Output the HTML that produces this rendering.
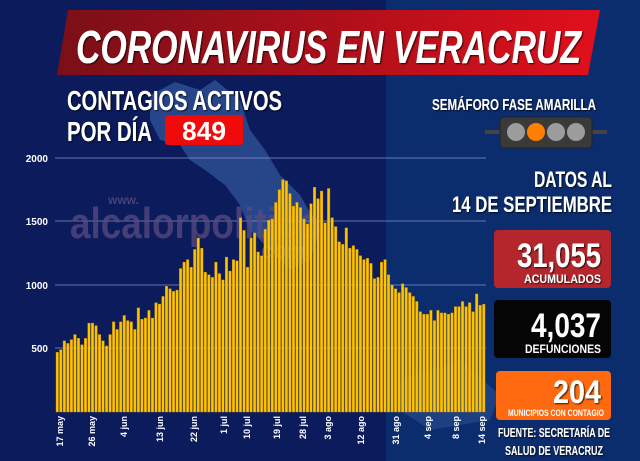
<!DOCTYPE html>
<html><head><meta charset="utf-8"><style>
html,body{margin:0;padding:0;background:#0b1b5c;}
svg{display:block;}
text{font-family:"Liberation Sans Narrow","Liberation Sans",sans-serif;font-weight:bold;}
</style></head><body>
<svg id="s" width="640" height="461" viewBox="0 0 640 461" xmlns="http://www.w3.org/2000/svg">
<defs>
<linearGradient id="bn" x1="0" x2="1" y1="0" y2="0"><stop offset="0" stop-color="#7a0f18"/><stop offset="1" stop-color="#e0101c"/></linearGradient>
<filter id="sh"><feDropShadow dx="1" dy="1" stdDeviation="0.8" flood-color="#000" flood-opacity="0.8"/></filter>
</defs>
<rect width="640" height="461" fill="#0b1b5c"/>
<rect x="386" width="254" height="461" fill="#0b2d6e"/>
<!-- map watermark -->
<path d="M150,95 L175,82 L200,90 L215,80 L240,100 L250,130 L265,150 L280,175 L300,195 L320,230 L310,260 L290,270 L270,250 L250,230 L240,205 L225,185 L205,170 L190,160 L180,145 L160,140 L150,120 Z" fill="#3b64a8" opacity="0.6"/>
<path d="M400,380 L460,360 L500,395 L490,420 L430,430 L400,410 Z" fill="#3b64a8" opacity="0.35"/>
<!-- banner -->
<polygon points="68,10 600,10 588,75 57,75" fill="url(#bn)"/>
<text x="76" y="63" font-size="46" font-style="italic" fill="#fff" textLength="505" lengthAdjust="spacingAndGlyphs" filter="url(#sh)">CORONAVIRUS EN VERACRUZ</text>
<text x="67" y="110" font-size="28" fill="#fff" textLength="215" lengthAdjust="spacingAndGlyphs" filter="url(#sh)">CONTAGIOS ACTIVOS</text>
<text x="67" y="141" font-size="28" fill="#fff" textLength="85" lengthAdjust="spacingAndGlyphs" filter="url(#sh)">POR DÍA</text>
<rect x="165" y="115" width="78" height="30" rx="3" fill="#f00a0a"/>
<text x="204" y="140" font-size="26" fill="#fff" text-anchor="middle" textLength="44" lengthAdjust="spacingAndGlyphs">849</text>
<!-- semaforo -->
<text x="432" y="110" font-size="16" fill="#fff" textLength="164" lengthAdjust="spacingAndGlyphs" filter="url(#sh)">SEMÁFORO FASE AMARILLA</text>
<rect x="485" y="130" width="122" height="4" fill="#444"/>
<rect x="500" y="117" width="92" height="31" rx="4" fill="#3a3a3a" stroke="#222"/>
<circle cx="516" cy="132" r="9" fill="#9c9c9c"/>
<circle cx="536" cy="132" r="9" fill="#ff8000"/>
<circle cx="556" cy="132" r="9" fill="#9c9c9c"/>
<circle cx="576" cy="132" r="9" fill="#9c9c9c"/>
<!-- grid -->
<g stroke="#8a98c8" stroke-width="1" opacity="0.7">
<line x1="55" x2="486" y1="158" y2="158"/><line x1="55" x2="486" y1="221" y2="221"/>
<line x1="55" x2="486" y1="285" y2="285"/><line x1="55" x2="486" y1="348" y2="348"/>
</g>
<g font-size="10" fill="#fff" text-anchor="end">
<text x="48" y="162">2000</text><text x="48" y="225">1500</text><text x="48" y="289">1000</text><text x="48" y="352">500</text>
</g>
<text x="70" y="238" font-size="44" fill="#5a4a80" opacity="0.75" textLength="250" lengthAdjust="spacingAndGlyphs" font-family="Liberation Sans" style="font-family:'Liberation Sans',sans-serif">alcalorpolitico</text>
<text x="108" y="204" font-size="12" fill="#5a4a80" opacity="0.8">www.</text>
<text x="255" y="258" font-size="22" fill="#8a8ab0" opacity="0.5">.com</text>
<g id="bars"></g>
<g id="lbl" font-size="9" fill="#fff"></g>
<!-- right panel -->
<text x="612" y="187" font-size="22" fill="#fff" text-anchor="end" textLength="78" lengthAdjust="spacingAndGlyphs" filter="url(#sh)">DATOS AL</text>
<text x="612" y="212" font-size="22" fill="#fff" text-anchor="end" textLength="160" lengthAdjust="spacingAndGlyphs" filter="url(#sh)">14 DE SEPTIEMBRE</text>
<rect x="494" y="230" width="117" height="58" rx="4" fill="#b4262c"/>
<text x="601" y="267" font-size="34" fill="#fff" text-anchor="end" textLength="84" lengthAdjust="spacingAndGlyphs" filter="url(#sh)">31,055</text>
<text x="601" y="283" font-size="12" fill="#fff" text-anchor="end" textLength="77" lengthAdjust="spacingAndGlyphs" filter="url(#sh)">ACUMULADOS</text>
<rect x="494" y="300" width="117" height="58" rx="4" fill="#050505"/>
<text x="601" y="337" font-size="34" fill="#fff" text-anchor="end" textLength="70" lengthAdjust="spacingAndGlyphs">4,037</text>
<text x="601" y="353" font-size="12" fill="#fff" text-anchor="end" textLength="76" lengthAdjust="spacingAndGlyphs">DEFUNCIONES</text>
<rect x="496" y="371" width="115" height="49" rx="4" fill="#ff6a10"/>
<text x="601" y="403" font-size="32" fill="#fff" text-anchor="end" textLength="48" lengthAdjust="spacingAndGlyphs" filter="url(#sh)">204</text>
<text x="604" y="416" font-size="9" fill="#fff" text-anchor="end" textLength="96" lengthAdjust="spacingAndGlyphs">MUNICIPIOS CON CONTAGIO</text>
<text x="554" y="437" font-size="13" fill="#fff" text-anchor="middle" textLength="112" lengthAdjust="spacingAndGlyphs" filter="url(#sh)">FUENTE: SECRETARÍA DE</text>
<text x="554" y="455" font-size="13" fill="#fff" text-anchor="middle" textLength="98" lengthAdjust="spacingAndGlyphs" filter="url(#sh)">SALUD DE VERACRUZ</text>
</svg>
<script>
var v=[470,490,560,540,570,610,580,530,580,700,700,680,610,560,520,610,710,650,710,760,720,710,650,820,730,740,800,740,860,850,910,990,970,950,960,1130,1180,1200,1140,1280,1370,1290,1100,1080,1060,1180,1090,1040,1220,1110,1200,1190,1530,1430,1140,1370,1410,1260,1230,1440,1510,1520,1650,1750,1830,1820,1720,1620,1650,1610,1520,1480,1640,1770,1680,1740,1490,1760,1530,1460,1340,1320,1450,1290,1310,1280,1230,1200,1210,1170,1050,1060,1180,1200,1080,1000,970,940,1010,980,940,910,870,790,770,770,800,720,800,780,780,770,780,830,830,870,830,860,790,930,840,849];
var ns="http://www.w3.org/2000/svg",g=document.getElementById("bars");
var x0=56,x1=486,step=(x1-x0)/v.length;
v.forEach(function(d,i){var h=d/500*63.5;var r=document.createElementNS(ns,"rect");
r.setAttribute("x",(x0+i*step).toFixed(2));r.setAttribute("y",(412-h).toFixed(2));
r.setAttribute("width",(step*0.72).toFixed(2));r.setAttribute("height",h.toFixed(2));
r.setAttribute("fill","#ffc400");r.setAttribute("stroke","#c89000");r.setAttribute("stroke-width","0.4");g.appendChild(r);});
var L=[["17 may",60],["26 may",92],["4 jun",124],["13 jun",160],["22 jun",194],["1 jul",224],["10 jul",247],["19 jul",277],["28 jul",303],["3 ago",328],["12 ago",361],["31 ago",396],["4 sep",428],["8 sep",456],["14 sep",482]];
var lg=document.getElementById("lbl");
L.forEach(function(a){var t=document.createElementNS(ns,"text");t.setAttribute("transform","translate("+(a[1]+3)+",416) rotate(-90)");t.setAttribute("text-anchor","end");t.textContent=a[0];lg.appendChild(t);});
</script>
</body></html>
